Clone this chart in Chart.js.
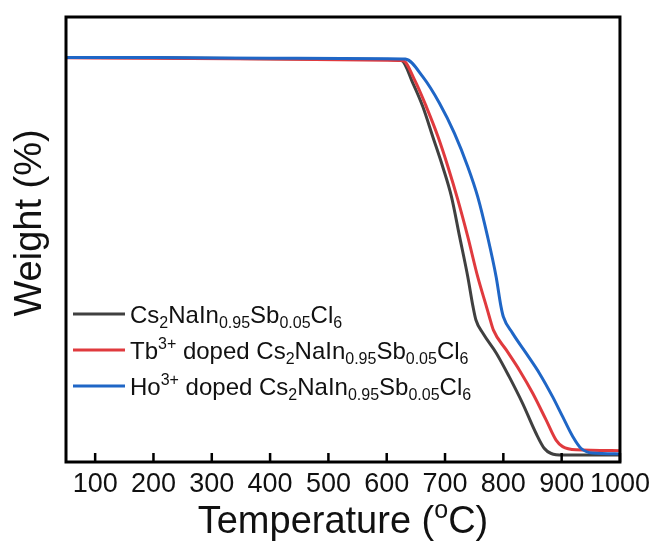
<!DOCTYPE html>
<html>
<head>
<meta charset="utf-8">
<script src="https://cdn.jsdelivr.net/npm/chart.js@4.4.1/dist/chart.umd.min.js"></script>
<style>
  html, body { margin: 0; padding: 0; background: #fff; }
  #wrap { width: 656px; height: 543px; position: relative; }
</style>
</head>
<body>
<div id="wrap"><canvas id="c"></canvas></div>
<script>
// ---- Data ----
const xTicks = [100, 200, 300, 400, 500, 600, 700, 800, 900, 1000];

const grayT = [50, 200, 400, 600, 625, 645, 662, 679, 696, 711, 725, 739, 748, 753, 765, 788, 810, 833, 856, 870, 882, 902, 953, 1000];
const grayW = [100, 99.9, 99.7, 99.5, 99.3, 93.6, 87.8, 80.4, 73.0, 65.6, 55.7, 45.8, 38.4, 35.1, 31.8, 26.9, 21.1, 14.5, 7.1, 3.4, 2.1, 1.7, 1.7, 1.7];

const redT = [50, 200, 400, 600, 628, 648, 668, 688, 705, 722, 739, 756, 771, 776, 783, 805, 827.6, 850.4, 873.3, 890.4, 901.7, 924.7, 1000];
const redW = [99.9, 99.8, 99.6, 99.3, 99.2, 94.4, 87.8, 80.4, 73.0, 64.8, 55.7, 45.8, 38.4, 35.9, 32.6, 27.7, 22.7, 17.0, 10.4, 5.4, 3.8, 3.0, 2.8];

const blueT = [50, 200, 400, 600, 632, 662, 690.5, 716, 739, 756, 773, 787.6, 796, 800, 816, 839, 862, 884.6, 901.7, 919, 933, 953, 1000];
const blueW = [100, 100, 99.8, 99.7, 99.6, 95.2, 88.7, 81.3, 73.0, 65.6, 55.7, 45.8, 38.4, 35.9, 31.8, 26.9, 21.9, 16.1, 11.2, 6.3, 3.4, 2.2, 2.0];

const seriesColors = ['#404040', '#e03a3e', '#1f66c6'];

// Legend labels as rich-text segments: n = normal, sub = subscript, sup = superscript
const compound = [['Cs','n'],['2','sub'],['NaIn','n'],['0.95','sub'],['Sb','n'],['0.05','sub'],['Cl','n'],['6','sub']];
const legendLabels = [
  compound,
  [['Tb','n'],['3+','sup'],[' doped ','n']].concat(compound),
  [['Ho','n'],['3+','sup'],[' doped ','n']].concat(compound)
];
const xTitle = [['Temperature (','n'],['o','sup'],['C)','n']];
const yTitle = [['Weight (%)','n']];

const FONT = '"Liberation Sans", Arial, Helvetica, sans-serif';

function pts(t, w) { return t.map((v, i) => ({ x: v, y: w[i] })); }

function segFont(kind, size) {
  const s = kind === 'n' ? size : Math.round(size * 0.66);
  return s + 'px ' + FONT;
}
function segDy(kind, size) {
  if (kind === 'sub') return size * 0.22;
  if (kind === 'sup') return -size * 0.40;
  return 0;
}
function richWidth(ctx, segs, size) {
  let w = 0;
  for (const [t, k] of segs) { ctx.font = segFont(k, size); w += ctx.measureText(t).width; }
  return w;
}
function drawRich(ctx, segs, x, y, size, color) {
  let cx = x;
  ctx.fillStyle = color;
  ctx.textBaseline = 'alphabetic';
  ctx.textAlign = 'left';
  for (const [t, k] of segs) {
    ctx.font = segFont(k, size);
    ctx.fillText(t, cx, y + segDy(k, size));
    cx += ctx.measureText(t).width;
  }
}

const decor = {
  id: 'decor',
  afterDraw(chart) {
    const ctx = chart.ctx;
    const a = chart.chartArea;
    const xs = chart.scales.x;
    ctx.save();
    // inward ticks on bottom axis
    ctx.strokeStyle = '#000';
    ctx.lineWidth = 2.5;
    ctx.beginPath();
    for (const v of xTicks) {
      const px = xs.getPixelForValue(v);
      ctx.moveTo(px, a.bottom);
      ctx.lineTo(px, a.bottom - 9);
    }
    ctx.stroke();
    // frame
    ctx.lineWidth = 3;
    ctx.strokeRect(a.left, a.top, a.right - a.left, a.bottom - a.top);

    // legend
    const lx = a.left + 7;
    for (let i = 0; i < legendLabels.length; i++) {
      const ry = a.top + 297 + i * 36;
      ctx.strokeStyle = seriesColors[i];
      ctx.lineWidth = 3;
      ctx.beginPath();
      ctx.moveTo(lx, ry);
      ctx.lineTo(lx + 52, ry);
      ctx.stroke();
      drawRich(ctx, legendLabels[i], lx + 57, ry + 9, 24, '#111');
    }

    // x title
    const ts = 38;
    const xw = richWidth(ctx, xTitle, ts);
    drawRich(ctx, xTitle, (a.left + a.right) / 2 - xw / 2, 533, ts, '#111');

    // y title (rotated)
    const yw = richWidth(ctx, yTitle, ts);
    ctx.translate(41, 223);
    ctx.rotate(-Math.PI / 2);
    drawRich(ctx, yTitle, -yw / 2, 0, ts, '#111');
    ctx.restore();
  }
};

new Chart(document.getElementById('c'), {
  type: 'line',
  data: {
    datasets: [
      { label: 'Cs2NaIn0.95Sb0.05Cl6', data: pts(grayT, grayW), borderColor: seriesColors[0], order: 2 },
      { label: 'Tb3+ doped Cs2NaIn0.95Sb0.05Cl6', data: pts(redT, redW), borderColor: seriesColors[1], order: 1 },
      { label: 'Ho3+ doped Cs2NaIn0.95Sb0.05Cl6', data: pts(blueT, blueW), borderColor: seriesColors[2], order: 0 }
    ]
  },
  options: {
    responsive: true,
    maintainAspectRatio: false,
    animation: false,
    layout: { padding: { left: 66, top: 17, right: 35.3, bottom: 0 } },
    elements: {
      point: { radius: 0 },
      line: { borderWidth: 3, cubicInterpolationMode: 'monotone', fill: false }
    },
    plugins: { legend: { display: false }, tooltip: { enabled: false } },
    scales: {
      x: {
        type: 'linear',
        min: 50,
        max: 1000,
        afterBuildTicks(s) { s.ticks = xTicks.map(v => ({ value: v })); },
        afterFit(s) { s.height = 81; },
        grid: { display: false, drawTicks: false },
        border: { display: false },
        ticks: {
          padding: 6,
          maxRotation: 0,
          autoSkip: false,
          color: '#111',
          font: { family: FONT, size: 27 },
          callback: v => String(v)
        }
      },
      y: {
        display: false,
        min: 0,
        max: 110
      }
    }
  },
  plugins: [decor]
});
</script>
</body>
</html>
